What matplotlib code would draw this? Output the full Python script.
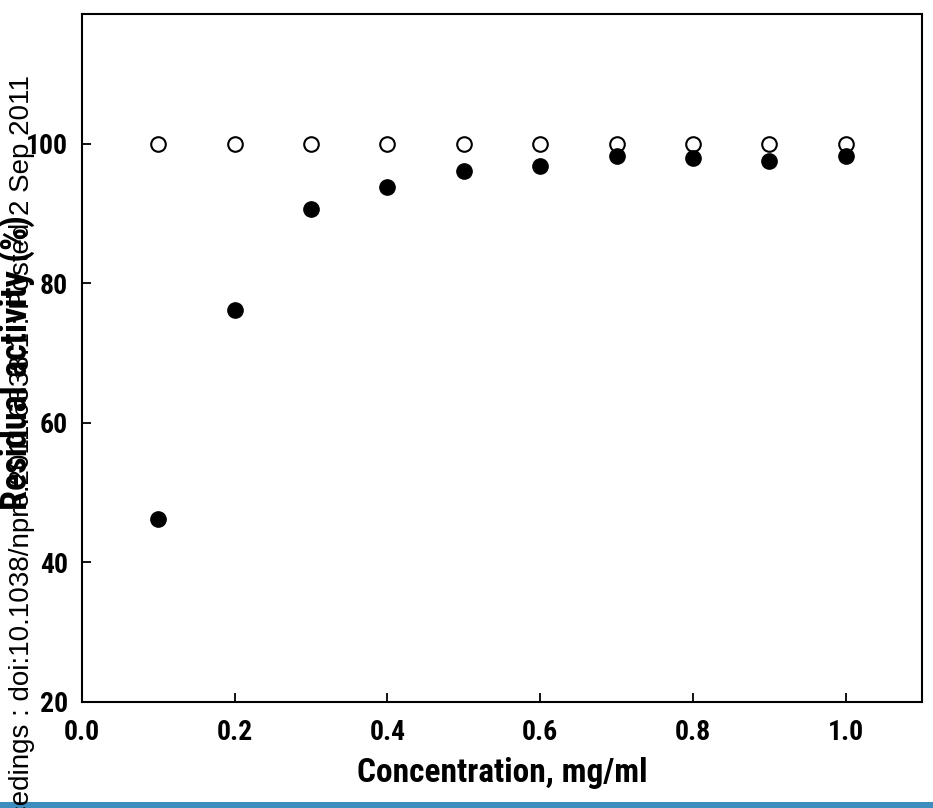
import matplotlib
matplotlib.use("Agg")
import matplotlib.pyplot as plt
from matplotlib.patches import Rectangle

# concentration (mg/ml) and residual activity (%)
conc = [0.1, 0.2, 0.3, 0.4, 0.5, 0.6, 0.7, 0.8, 0.9, 1.0]
control = [100, 100, 100, 100, 100, 100, 100, 100, 100, 100]
treated = [46.2, 76.2, 90.6, 93.8, 96.1, 96.8, 98.3, 98.0, 97.6, 98.3]

xticks = [0.0, 0.2, 0.4, 0.6, 0.8, 1.0]
yticks = [20, 40, 60, 80, 100]

narrow = ["Roboto Condensed", "DejaVu Sans"]

fig = plt.figure(figsize=(9.33, 8.08), dpi=100)
ax = fig.add_axes([0.0879, 0.1312, 0.9003, 0.8515])

ax.plot(conc, treated, "o", color="black", markersize=11, zorder=3)
ax.plot(conc, control, "o", markerfacecolor="white", markeredgecolor="black",
        markersize=10.5, markeredgewidth=1.5, zorder=2)

ax.set_xlim(0, 1.1)
ax.set_ylim(20, 118.6)
ax.set_xticks(xticks)
ax.set_yticks(yticks)
ax.set_xticklabels([f"{t:.1f}" for t in xticks], fontfamily=narrow,
                   fontweight="bold", fontsize=20)
ax.set_yticklabels([str(t) for t in yticks], fontfamily=narrow,
                   fontweight="bold", fontsize=20)
ax.tick_params(direction="in", length=6.5, width=1.3, pad=10)
ax.tick_params(axis="x", pad=12)
for s in ax.spines.values():
    s.set_linewidth(1.5)

ax.set_xlabel("Concentration, mg/ml", fontfamily=narrow, fontweight="bold",
              fontsize=24, labelpad=8)
ax.set_ylabel("Residual activity (%)", fontfamily=narrow, fontweight="bold",
              fontsize=26)
ax.yaxis.set_label_coords(-0.056, 0.493)

# watermark along the left edge
fig.text(22 / 933, 1 - 75 / 808,
         "Nature Precedings : doi:10.1038/npre.2011.6338.1 : Posted 2 Sep 2011",
         rotation=90, ha="center", va="top", fontsize=20,
         fontfamily="Liberation Sans", color="black")

# blue strip at the bottom
fig.patches.append(Rectangle((0, 0), 1, 6 / 808, transform=fig.transFigure,
                             facecolor="#3d8dbf", edgecolor="none"))

fig.savefig("out.png", dpi=100)
